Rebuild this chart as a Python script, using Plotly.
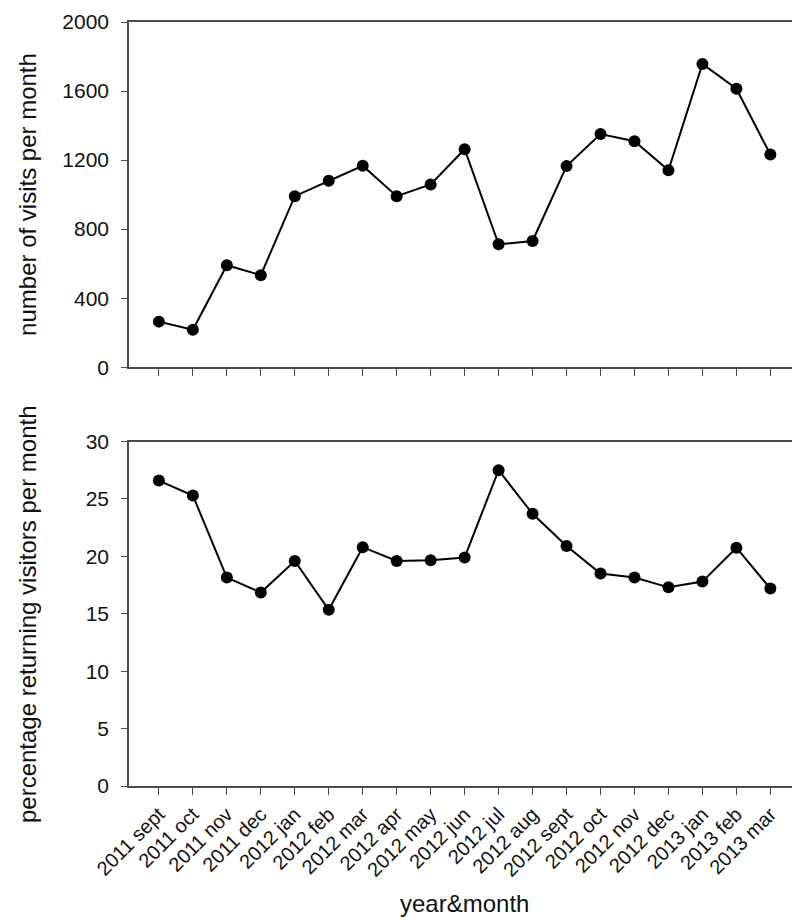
import plotly.graph_objects as go
from plotly.subplots import make_subplots

months = ["2011 sept", "2011 oct", "2011 nov", "2011 dec", "2012 jan", "2012 feb",
          "2012 mar", "2012 apr", "2012 may", "2012 jun", "2012 jul", "2012 aug",
          "2012 sept", "2012 oct", "2012 nov", "2012 dec", "2013 jan", "2013 feb",
          "2013 mar"]
visits = [264, 217, 591, 533, 991, 1080, 1167, 991, 1059, 1263, 712, 731,
          1165, 1351, 1309, 1141, 1757, 1613, 1232]
returning_pct = [26.6, 25.3, 18.15, 16.85, 19.6, 15.35, 20.8, 19.6, 19.65, 19.9,
                 27.5, 23.7, 20.9, 18.5, 18.15, 17.3, 17.8, 20.75, 17.2]
top_yticks = [0, 400, 800, 1200, 1600, 2000]
bottom_yticks = [0, 5, 10, 15, 20, 25, 30]

W, H = 800, 917
ml, mr, mt, mb = 121, 2, 10, 139
ph = H - mt - mb

fig = make_subplots(rows=2, cols=1, shared_xaxes=False, vertical_spacing=0.1)

line_style = dict(color="black", width=2)
marker_style = dict(color="black", size=12)

fig.add_trace(go.Scatter(x=months, y=visits, mode="lines+markers",
                         line=line_style, marker=marker_style, showlegend=False),
              row=1, col=1)
fig.add_trace(go.Scatter(x=months, y=returning_pct, mode="lines+markers",
                         line=line_style, marker=marker_style, showlegend=False),
              row=2, col=1)

axcol = "#4a4a4a"
txtcol = "#111111"
font_fam = "Liberation Sans, Arial, sans-serif"

xcommon = dict(type="category", categoryorder="array", categoryarray=months,
               range=[-0.88, 18.99], showgrid=False, zeroline=False,
               showline=True, linecolor=axcol, linewidth=1.5, mirror=True,
               ticks="outside", ticklen=7, tickwidth=1.3, tickcolor=axcol)
fig.update_xaxes(**xcommon, showticklabels=False, row=1, col=1)
fig.update_xaxes(**xcommon, showticklabels=True, tickangle=-45,
                 tickfont=dict(size=20, color=txtcol, family=font_fam), row=2, col=1)

ycommon = dict(showgrid=False, zeroline=False, showline=True, linecolor=axcol,
               linewidth=1.5, mirror=True, ticks="outside", ticklen=6,
               tickwidth=1.3, tickcolor=axcol, ticklabelstandoff=8,
               tickfont=dict(size=21, color=txtcol, family=font_fam))
fig.update_yaxes(**ycommon, range=[0, 2000], tickvals=top_yticks, row=1, col=1)
fig.update_yaxes(**ycommon, range=[0, 30], tickvals=bottom_yticks, row=2, col=1)

top_dom = [(H - mb - 357) / ph, 1.0]
bot_dom = [0.0, (H - mb - 431.7) / ph]
fig.update_layout(yaxis=dict(domain=top_dom), yaxis2=dict(domain=bot_dom))

pw = W - ml - mr
title_x = (19 - ml) / pw
fig.add_annotation(text="number of visits per month", xref="paper", yref="paper",
                   x=title_x, y=(top_dom[0] + top_dom[1]) / 2, textangle=-90,
                   showarrow=False, xanchor="center", yanchor="middle",
                   font=dict(size=24, color=txtcol, family=font_fam))
fig.add_annotation(text="percentage returning visitors per month", xref="paper",
                   yref="paper", x=title_x, y=(bot_dom[0] + bot_dom[1]) / 2,
                   textangle=-90, showarrow=False, xanchor="center",
                   yanchor="middle",
                   font=dict(size=24, color=txtcol, family=font_fam))
fig.add_annotation(text="year&month", xref="paper", yref="paper",
                   x=(457 - ml) / pw, y=-(896 - (H - mb)) / ph, showarrow=False,
                   xanchor="center", yanchor="middle",
                   font=dict(size=24, color=txtcol, family=font_fam))

fig.update_layout(width=W, height=H, margin=dict(l=ml, r=mr, t=mt, b=mb),
                  plot_bgcolor="white", paper_bgcolor="white",
                  font=dict(family=font_fam))

fig.write_html("out.html")
